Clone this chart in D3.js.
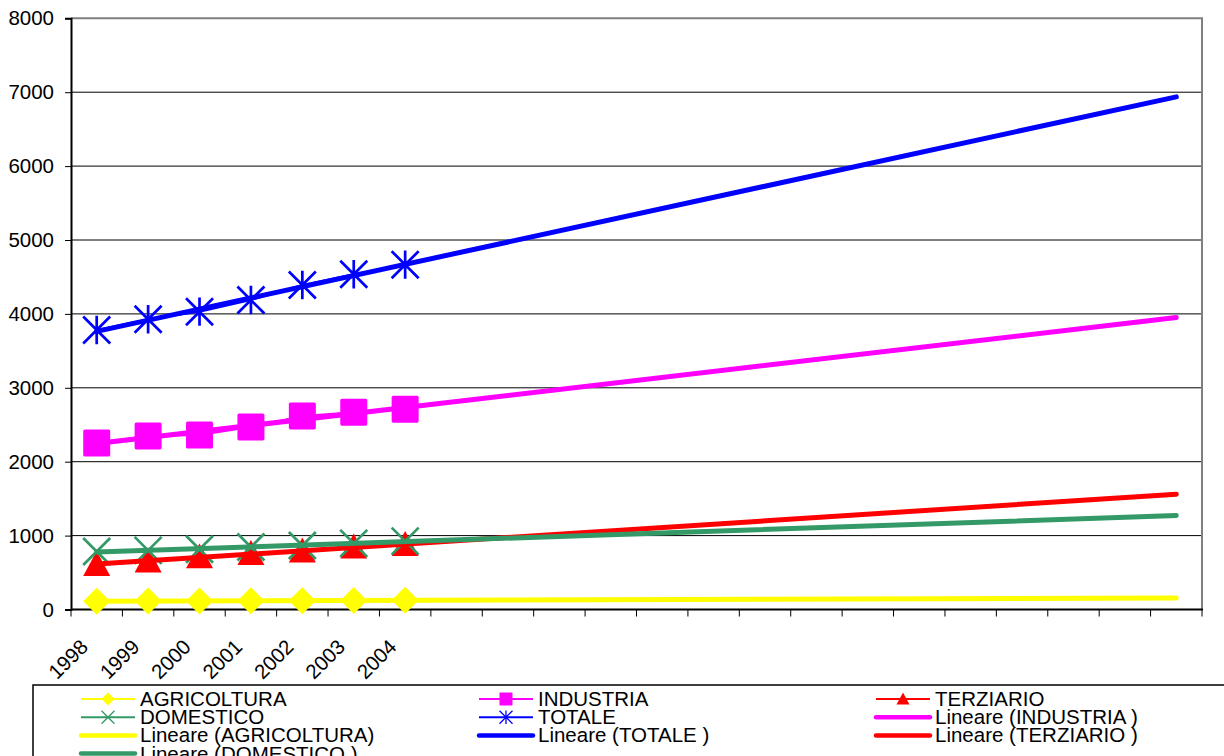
<!DOCTYPE html>
<html>
<head>
<meta charset="utf-8">
<script src="https://cdn.jsdelivr.net/npm/d3@7/dist/d3.min.js"></script>
<style>
  html, body { margin: 0; padding: 0; background: #fff; overflow: hidden; }
  svg { display: block; font-family: "Liberation Sans", Arial, sans-serif; }
</style>
</head>
<body>
<svg id="chart" width="1224" height="756"></svg>
<script>
// Category axis: 22 yearly slots, only the observed years carry a label
const years = ["1998", "1999", "2000", "2001", "2002", "2003", "2004"];
const slotCount = 22;

// Consumption by sector, one value per observed year
const agricoltura = [112, 114, 116, 118, 120, 122, 125];
const industria   = [2253, 2348, 2361, 2470, 2620, 2670, 2710];
const terziario   = [610, 656, 712, 758, 790, 845, 878];
const domestico   = [785, 800, 815, 845, 865, 895, 925];
const totale      = [3782, 3927, 4030, 4188, 4391, 4536, 4666];

const yTicks = [0, 1000, 2000, 3000, 4000, 5000, 6000, 7000, 8000];

const series = [
  { name: "AGRICOLTURA", values: agricoltura, color: "#FFFF00", marker: "diamond" },
  { name: "INDUSTRIA",   values: industria,   color: "#FF00FF", marker: "square" },
  { name: "TERZIARIO",   values: terziario,   color: "#FF0000", marker: "triangle" },
  { name: "DOMESTICO",   values: domestico,   color: "#339966", marker: "x" },
  { name: "TOTALE",      values: totale,      color: "#0000FF", marker: "star" }
];
const byName = Object.fromEntries(series.map(s => [s.name, s]));

// Linear trend lines (least squares on x = 1..n), drawn across all slots
const trendOrder = [
  { name: "INDUSTRIA",   label: "Lineare (INDUSTRIA )" },
  { name: "AGRICOLTURA", label: "Lineare (AGRICOLTURA)" },
  { name: "TOTALE",      label: "Lineare (TOTALE )" },
  { name: "TERZIARIO",   label: "Lineare (TERZIARIO )" },
  { name: "DOMESTICO",   label: "Lineare (DOMESTICO )" }
];
function linearFit(vals) {
  const xs = vals.map((_, i) => i + 1);
  const mx = d3.mean(xs), my = d3.mean(vals);
  let sxy = 0, sxx = 0;
  xs.forEach((x, i) => { sxy += (x - mx) * (vals[i] - my); sxx += (x - mx) * (x - mx); });
  const b = sxy / sxx, a = my - b * mx;
  return x => a + b * x;
}

const svg = d3.select("#chart");
const plot = { left: 71, right: 1202, top: 18.3, bottom: 609.5 };

const x = d3.scaleBand().domain(d3.range(slotCount)).range([plot.left, plot.right]);
const cx = i => x(i) + x.bandwidth() / 2;
const y = d3.scaleLinear().domain([0, 8000]).range([plot.bottom, plot.top]);

// Horizontal gridlines
svg.append("g").selectAll("line").data(yTicks.filter(t => t > 0 && t < 8000)).join("line")
  .attr("x1", plot.left).attr("x2", plot.right)
  .attr("y1", d => y(d)).attr("y2", d => y(d))
  .attr("stroke", "#000").attr("stroke-width", 1);

// Plot-area frame (top and right in grey)
svg.append("line").attr("x1", plot.left).attr("x2", plot.right + 1)
  .attr("y1", y(8000)).attr("y2", y(8000)).attr("stroke", "#808080").attr("stroke-width", 2);
svg.append("line").attr("x1", plot.right).attr("x2", plot.right)
  .attr("y1", y(8000)).attr("y2", plot.bottom).attr("stroke", "#808080").attr("stroke-width", 2);

// Y axis
const yAxis = d3.axisLeft(y).tickValues(yTicks).tickSize(6).tickPadding(10).tickFormat(d3.format("d"));
const gy = svg.append("g").attr("transform", `translate(${plot.left},0)`).call(yAxis);
gy.select(".domain").attr("stroke", "#000").attr("stroke-width", 2);
gy.selectAll(".tick line").attr("stroke", "#000");
gy.selectAll(".tick text").attr("font-size", 20.5).attr("fill", "#000")
  .attr("font-family", "Liberation Sans, Arial, sans-serif").attr("x", -17);

// X axis: ticks at slot boundaries, rotated year labels
const boundaries = d3.range(slotCount + 1).map(i => plot.left + i * x.step());
const gx = svg.append("g");
gx.append("line").attr("x1", plot.left).attr("x2", plot.right + 1)
  .attr("y1", plot.bottom).attr("y2", plot.bottom).attr("stroke", "#000").attr("stroke-width", 2);
gx.selectAll("line.tick").data(boundaries).join("line").attr("class", "tick")
  .attr("x1", d => d).attr("x2", d => d)
  .attr("y1", plot.bottom).attr("y2", plot.bottom + 7)
  .attr("stroke", "#000").attr("stroke-width", 1);
gx.selectAll("text").data(years).join("text")
  .attr("transform", (d, i) => `translate(${cx(i) - 12.5},${plot.bottom + 33.5}) rotate(-45)`)
  .attr("text-anchor", "end").attr("dy", "0.35em")
  .attr("font-size", 20.5).attr("fill", "#000").text(d => d);

// Marker drawing
function drawMarker(g, type, color, size) {
  const h = size / 2;
  if (type === "diamond") {
    g.append("path").attr("d", `M0,${-h}L${h},0L0,${h}L${-h},0Z`).attr("fill", color);
  } else if (type === "square") {
    g.append("rect").attr("x", -h).attr("y", -h).attr("width", size).attr("height", size)
      .attr("rx", size * 0.06).attr("fill", color);
  } else if (type === "triangle") {
    g.append("path").attr("d", `M0,${-h}L${h},${h * 0.85}L${-h},${h * 0.85}Z`).attr("fill", color);
  } else if (type === "x") {
    g.append("path").attr("d", `M${-h},${-h}L${h},${h}M${-h},${h}L${h},${-h}`)
      .attr("stroke", color).attr("stroke-width", size * 0.1).attr("fill", "none");
  } else if (type === "star") {
    g.append("path").attr("d", `M${-h},${-h}L${h},${h}M${-h},${h}L${h},${-h}M0,${-h * 1.05}L0,${h * 1.05}`)
      .attr("stroke", color).attr("stroke-width", size * 0.1).attr("fill", "none");
  }
}

const line = d3.line().x((d, i) => cx(i)).y(d => y(d));

// Data series: thin connecting lines and markers
series.forEach(s => {
  svg.append("path").datum(s.values).attr("d", line)
    .attr("fill", "none").attr("stroke", s.color).attr("stroke-width", 2);
  const g = svg.append("g");
  s.values.forEach((v, i) => {
    const m = g.append("g").attr("transform", `translate(${cx(i)},${y(v)})`);
    drawMarker(m, s.marker, s.color, 27);
  });
});

// Trend lines on top
trendOrder.forEach(t => {
  const s = byName[t.name];
  const f = linearFit(s.values);
  svg.append("line")
    .attr("x1", cx(0)).attr("y1", y(f(1)))
    .attr("x2", cx(slotCount - 1)).attr("y2", y(f(slotCount)))
    .attr("stroke", s.color).attr("stroke-width", 5).attr("stroke-linecap", "round");
});

// Legend
const legendItems = [
  { label: "AGRICOLTURA", s: byName["AGRICOLTURA"], trend: false },
  { label: "INDUSTRIA", s: byName["INDUSTRIA"], trend: false },
  { label: "TERZIARIO", s: byName["TERZIARIO"], trend: false },
  { label: "DOMESTICO", s: byName["DOMESTICO"], trend: false },
  { label: "TOTALE", s: byName["TOTALE"], trend: false },
  ...trendOrder.map(t => ({ label: t.label, s: byName[t.name], trend: true }))
];
svg.append("rect").attr("x", 33).attr("y", 685).attr("width", 1200).attr("height", 80)
  .attr("fill", "#fff").attr("stroke", "#000").attr("stroke-width", 1.5);
const colX = [80, 478, 875];
legendItems.forEach((it, k) => {
  const col = k % 3, row = Math.floor(k / 3);
  const base = 706 + row * 18.2;
  const sy = base - 7;
  const lx = colX[col];
  const g = svg.append("g");
  g.append("line").attr("x1", lx + 1).attr("x2", lx + 55).attr("y1", sy).attr("y2", sy)
    .attr("stroke", it.s.color).attr("stroke-width", it.trend ? 4.5 : 2).attr("stroke-linecap", it.trend ? "round" : "butt");
  if (!it.trend) {
    const m = g.append("g").attr("transform", `translate(${lx + 28},${sy})`);
    drawMarker(m, it.s.marker, it.s.color, 13);
  }
  g.append("text").attr("x", lx + 60).attr("y", base).attr("font-size", 20.5).attr("fill", "#000").text(it.label);
});
</script>
</body>
</html>
